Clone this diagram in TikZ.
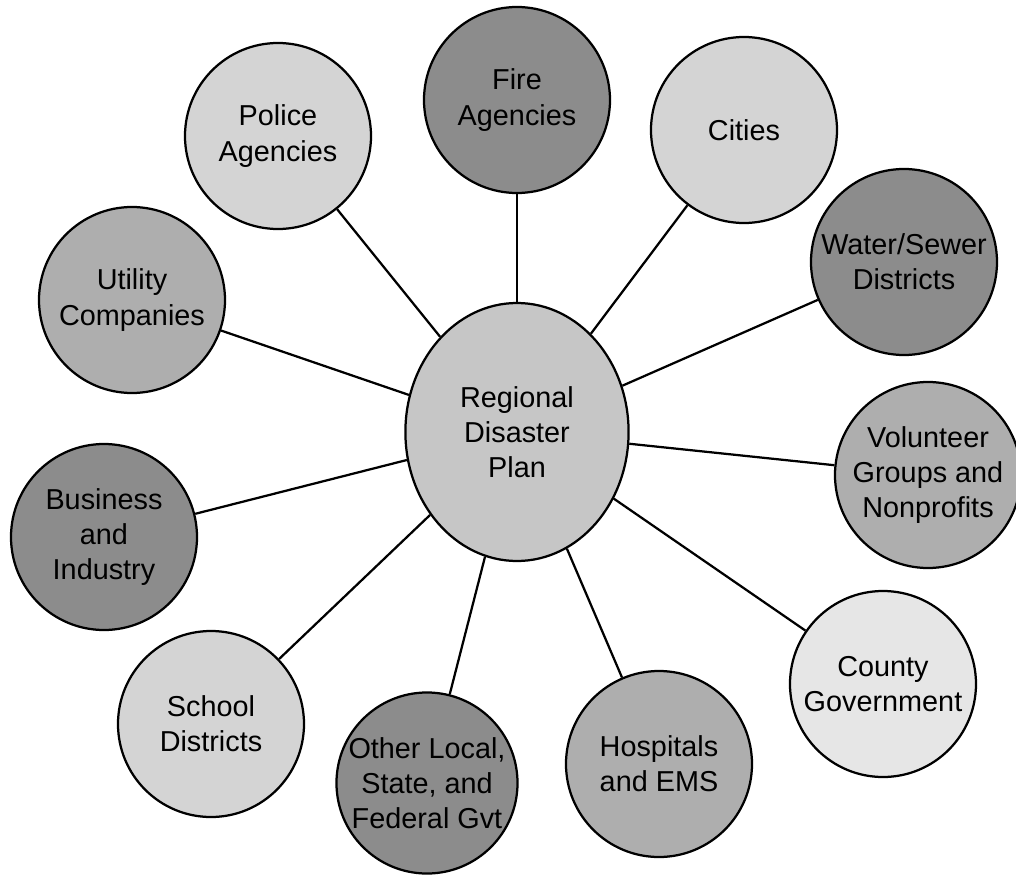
\documentclass[tikz,border=0pt]{standalone}
\usepackage{fontspec}
\setmainfont{Liberation Sans}
\usepackage{tikz}
\usetikzlibrary{shapes.geometric,positioning}
\usepackage{xcolor}
\definecolor{paleshade}{RGB}{230,230,230}
\definecolor{lightshade}{RGB}{212,212,212}
\definecolor{hubshade}{RGB}{198,198,198}
\definecolor{midshade}{RGB}{174,174,174}
\definecolor{darkshade}{RGB}{140,140,140}

\begin{document}
\begin{tikzpicture}[
    on grid,
    line width=1.6pt,
    every node/.style={font=\fontsize{20.5}{25}\selectfont},
    group/.style={circle, draw, line width=1.6pt, minimum size=4.65cm, inner sep=0pt, align=center},
    hubnode/.style={ellipse, draw, line width=1.6pt, fill=hubshade, minimum width=5.58cm, minimum height=6.45cm, inner sep=0pt, align=center},
    palecircle/.style={group, fill=paleshade},
    lightcircle/.style={group, fill=lightshade},
    midcircle/.style={group, fill=midshade},
    darkcircle/.style={group, fill=darkshade}
]
    \useasboundingbox (-12.925,-11.1) rectangle (12.475,10.8);

    % Hub
    \node[hubnode] (hub) {Regional\\Disaster\\Plan};

    % Top half
    \node[lightcircle, above left=7.4cm and 5.975cm of hub] (police) {Police\\Agencies};
    \node[darkcircle, above=8.3cm of hub] (fire) {Fire\\Agencies};
    \node[lightcircle, above right=7.55cm and 5.675cm of hub] (cities) {Cities};
    \node[darkcircle, above right=4.25cm and 9.675cm of hub] (water) {Water/Sewer\\Districts};
    \node[midcircle, above left=3.3cm and 9.625cm of hub] (utility) {Utility\\Companies};

    % Bottom half
    \node[midcircle, below right=1.075cm and 10.275cm of hub] (volunteer) {Volunteer\\Groups and\\Nonprofits};
    \node[palecircle, below right=6.3cm and 9.15cm of hub] (county) {County\\Government};
    \node[midcircle, below right=8.3cm and 3.55cm of hub] (hospitals) {Hospitals\\and EMS};
    \node[darkcircle, minimum size=4.5cm, below left=8.775cm and 2.25cm of hub] (othergvt) {Other Local,\\State, and\\Federal Gvt};
    \node[lightcircle, below left=7.3cm and 7.65cm of hub] (school) {School\\Districts};
    \node[darkcircle, below left=2.625cm and 10.325cm of hub] (business) {Business\\and\\Industry};

    % Edges
    \draw[-] (hub) -- (police);
    \draw[-] (hub) -- (fire);
    \draw[-] (hub) -- (cities);
    \draw[-] (hub) -- (water);
    \draw[-] (hub) -- (utility);
    \draw[-] (hub) -- (volunteer);
    \draw[-] (hub) -- (county);
    \draw[-] (hub) -- (hospitals);
    \draw[-] (hub) -- (othergvt);
    \draw[-] (hub) -- (school);
    \draw[-] (hub) -- (business);
\end{tikzpicture}
\end{document}
